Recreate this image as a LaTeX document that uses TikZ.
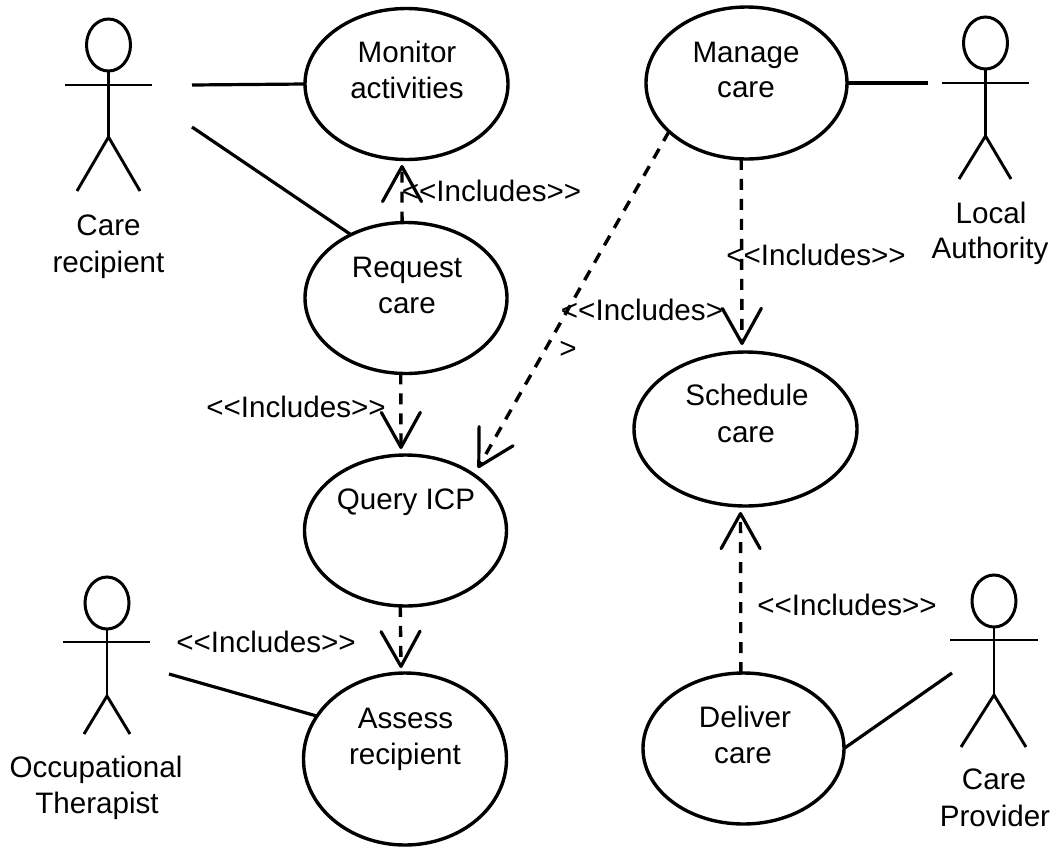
\documentclass[tikz,border=0pt]{standalone}
\usepackage{fontspec}
\setmainfont{Liberation Sans}
\usetikzlibrary{shapes.geometric,arrows.meta}
\newcommand{\incl}{{<}{<}Includes{>}{>}}
\begin{document}
\begin{tikzpicture}[x=1pt,y=-1pt,
  uc/.style={draw,ellipse,line width=3.4pt,inner sep=0pt,outer sep=0pt},
  head/.style={draw,ellipse,line width=3pt,inner sep=0pt,outer sep=0pt,minimum width=44pt,minimum height=52pt},
  lnk/.style={line width=3.2pt},
  limb/.style={line width=2.9pt},
  dep/.style={line width=3.4pt,dash pattern=on 11pt off 9pt,
    -{Straight Barb[length=35pt,width=39pt,line width=3.2pt,sep=0pt,round]}},
  lab/.style={font=\fontsize{29.6}{36}\selectfont,anchor=base,inner sep=0pt,outer sep=0pt}]
\useasboundingbox (0,0) rectangle (1053,847);
\fill[white] (0,0) rectangle (1053,847);

% use cases
\node[uc,minimum width=203pt,minimum height=151pt] (monitor) at (406.5,84) {};
\node[uc,minimum width=201pt,minimum height=152pt] (manage) at (746.5,83) {};
\node[uc,minimum width=202pt,minimum height=151pt] (request) at (406,298) {};
\node[uc,minimum width=202pt,minimum height=151pt] (query) at (405.5,530.5) {};
\node[uc,minimum width=223pt,minimum height=154pt] (schedule) at (745.5,429) {};
\node[uc,minimum width=203pt,minimum height=172pt] (assess) at (405,759) {};
\node[uc,minimum width=201pt,minimum height=151pt] (deliver) at (743.5,748.5) {};

% actors
\node[head] (a1) at (108.5,45) {};
\draw[limb] (a1.south) -- (108.5,137) coordinate (a1h);
\draw[limb] (65,85) -- (152,85);
\draw[limb] (77,191) -- (a1h) -- (140,191);

\node[head] (a2) at (985.5,43) {};
\draw[limb] (a2.south) -- (985.5,136) coordinate (a2h);
\draw[limb] (942,83) -- (1029,83);
\draw[limb] (959,179) -- (a2h) -- (1011,179);

\node[head] (a3) at (107,603) {};
\draw[limb] (a3.south) -- (107,696) coordinate (a3h);
\draw[limb] (63,642) -- (150,642);
\draw[limb] (84,734) -- (a3h) -- (130,734);

\node[head] (a4) at (994,601) {};
\draw[limb] (a4.south) -- (994,695) coordinate (a4h);
\draw[limb] (950,640) -- (1038,640);
\draw[limb] (961,747) -- (a4h) -- (1026,747);

% free ends
\coordinate (f1) at (192,85);
\coordinate (f2) at (192,127);
\coordinate (f3) at (928,83);
\coordinate (f4) at (169,674);
\coordinate (f5) at (952,673);
\coordinate (t1) at (402,165);
\coordinate (t2) at (401,449);
\coordinate (t3) at (478,468);
\coordinate (t4) at (742,345);
\coordinate (t5) at (401,668);
\coordinate (t6) at (740.5,512);

% associations
\draw[lnk] (f1) -- (monitor.west);
\draw[lnk] (f2) -- (request.131.6);
\draw[lnk] (manage.east) -- (f3);
\draw[lnk] (f4) -- (assess.154.7);
\draw[lnk] (deliver.east) -- (f5);

% dependencies
\draw[dep] (request.93) -- (t1);
\draw[dep] (request.266) -- (t2);
\draw[dep] (manage.212) -- (t3);
\draw[dep] (manage.266.6) -- (t4);
\draw[dep] (query.266.6) -- (t5);
\draw[dep] (deliver.92.7) -- (t6);

% texts
\node[lab] (m1) at (407,62) {Monitor};
\node[lab] (m2) at (407,98) {activities};
\node[lab] (g1) at (746,62) {Manage};
\node[lab] (g2) at (746,97) {care};
\node[lab] (r1) at (407,277) {Request};
\node[lab] (r2) at (407,313) {care};
\node[lab] (q1) at (406,509) {Query ICP};
\node[lab] (s1) at (747,405) {Schedule};
\node[lab] (s2) at (746,442) {care};
\node[lab] (e1) at (405.5,728) {Assess};
\node[lab] (e2) at (405,764) {recipient};
\node[lab] (d1) at (745,727) {Deliver};
\node[lab] (d2) at (743,763) {care};
\node[lab] (c1) at (108.5,235) {Care};
\node[lab] (c2) at (108.5,272) {recipient};
\node[lab] (o1) at (991,223) {Local};
\node[lab] (o2) at (990,258) {Authority};
\node[lab] (p1) at (96,777) {Occupational};
\node[lab] (p2) at (97,813) {Therapist};
\node[lab] (v1) at (994,789) {Care};
\node[lab] (v2) at (995,826) {Provider};
\node[lab] (l1) at (491.5,201) {\incl};
\node[lab] (l2) at (816,265) {\incl};
\node[lab] (l3) at (642,320) {{<}{<}Includes{>}};
\node[lab] (l3b) at (568,358) {{>}};
\node[lab] (l4) at (296,417) {\incl};
\node[lab] (l5) at (266,652) {\incl};
\node[lab] (l6) at (847,615) {\incl};
\end{tikzpicture}
\end{document}
